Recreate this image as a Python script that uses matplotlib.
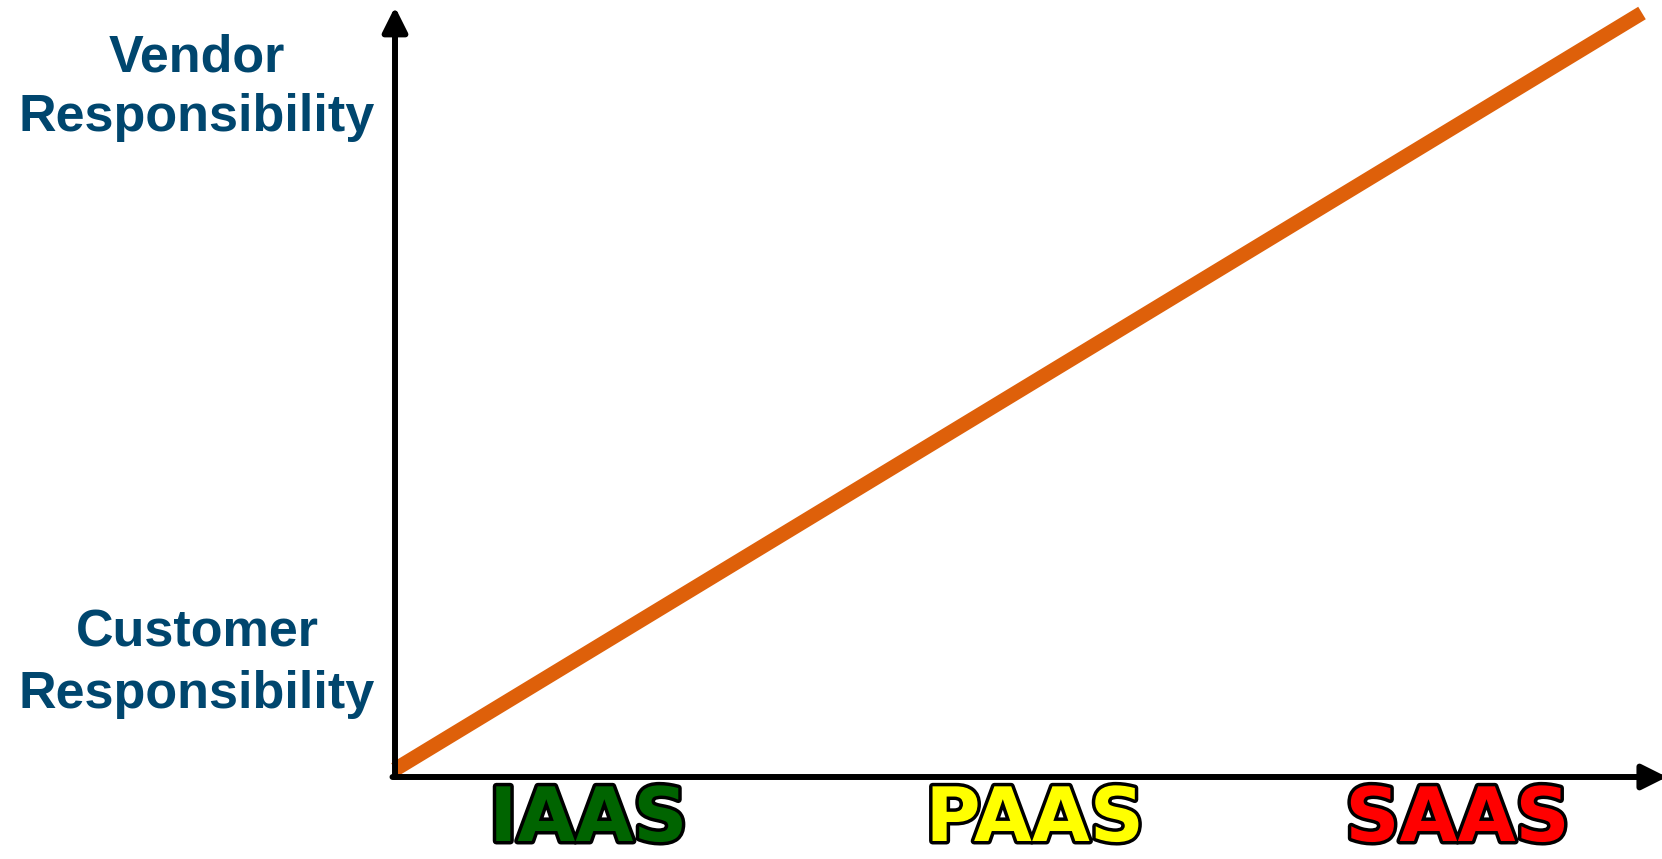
import matplotlib.pyplot as plt
import matplotlib.patheffects as pe

# service models along the x axis
modelos = ["IAAS", "PAAS", "SAAS"]
posiciones = [0.155, 0.513, 0.852]
colores = ["#006400", "#FFFF00", "#FF0000"]

# vendor share of responsibility (0 = customer, 1 = vendor)
linea_x = [0, 1]
linea_y = [0, 1]

W, H = 1662, 859
fig = plt.figure(figsize=(W / 100, H / 100), dpi=100)
fig.patch.set_facecolor("white")

x0, x1 = 395, 1642
y0, y1 = 777, 13
ax = fig.add_axes([x0 / W, 1 - y0 / H, (x1 - x0) / W, (y0 - y1) / H])
ax.set_xlim(0, 1)
ax.set_ylim(-0.01, 1)
for s in ax.spines.values():
    s.set_visible(False)
ax.set_xticks([])
ax.set_yticks([])

ax.plot(linea_x, linea_y, color="#DE600A", lw=10.5, solid_capstyle="butt", clip_on=False, zorder=2)

# axes with arrow heads
flecha = dict(arrowstyle="-|>,head_length=1.5,head_width=0.75", lw=4.3, color="black",
              shrinkA=0, shrinkB=0)
ax.annotate("", xy=(1.02, 0), xytext=(-0.002, 0), xycoords="axes fraction",
            arrowprops=flecha, annotation_clip=False, zorder=3)
ax.annotate("", xy=(0, 1.008), xytext=(0, 0), xycoords="axes fraction",
            arrowprops=flecha, annotation_clip=False, zorder=3)

# model labels under the axis
for nombre, px, c in zip(modelos, posiciones, colores):
    ax.annotate(nombre, xy=(px, 1 - 841 / H), xycoords=("data", "figure fraction"),
                ha="center", va="baseline", fontsize=54, fontweight="bold",
                family="DejaVu Sans", color=c, annotation_clip=False,
                path_effects=[pe.withStroke(linewidth=5, foreground="black")])

azul = "#00466E"
fig.text(197 / W, 1 - 88 / H, "Vendor\nResponsibility", ha="center", va="center",
         multialignment="center", fontsize=37.5, fontweight="bold", family="Liberation Sans",
         color=azul, linespacing=1.28)
fig.text(197 / W, 1 - 664 / H, "Customer\nResponsibility", ha="center", va="center",
         multialignment="center", fontsize=37.5, fontweight="bold", family="Liberation Sans",
         color=azul, linespacing=1.33)

fig.savefig("out.png", dpi=100)
